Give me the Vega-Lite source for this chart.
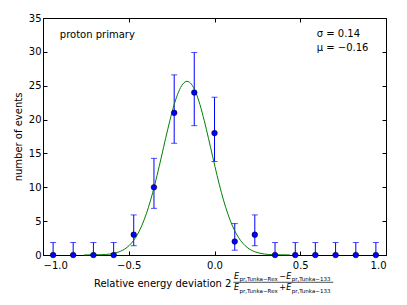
{
  "$schema": "https://vega.github.io/schema/vega-lite/v6.json",
  "width": 343,
  "height": 237,
  "autosize": "none",
  "padding": {"left": 43, "top": 18, "right": 21, "bottom": 50},
  "background": "white",
  "config": {
    "view": {"stroke": "black", "strokeWidth": 1},
    "font": "DejaVu Sans",
    "axis": {
      "grid": false,
      "domain": false,
      "tickColor": "black",
      "tickSize": -4,
      "labelFont": "DejaVu Sans",
      "labelFontSize": 10,
      "labelColor": "black",
      "titleFont": "DejaVu Sans",
      "titleFontSize": 10,
      "titleFontWeight": "normal",
      "titleColor": "black"
    }
  },
  "datasets": {
    "bins": [
      {"x": -0.941, "n": 0, "lo": 0, "hi": 1.84},
      {"x": -0.824, "n": 0, "lo": 0, "hi": 1.84},
      {"x": -0.706, "n": 0, "lo": 0, "hi": 1.84},
      {"x": -0.588, "n": 0, "lo": 0, "hi": 1.84},
      {"x": -0.471, "n": 3, "lo": 1.37, "hi": 5.92},
      {"x": -0.353, "n": 10, "lo": 6.89, "hi": 14.27},
      {"x": -0.235, "n": 21, "lo": 16.5, "hi": 26.6},
      {"x": -0.118, "n": 24, "lo": 19.1, "hi": 29.9},
      {"x": 0.0, "n": 18, "lo": 13.8, "hi": 23.3},
      {"x": 0.118, "n": 2, "lo": 0.71, "hi": 4.64},
      {"x": 0.235, "n": 3, "lo": 1.37, "hi": 5.92},
      {"x": 0.353, "n": 0, "lo": 0, "hi": 1.84},
      {"x": 0.471, "n": 0, "lo": 0, "hi": 1.84},
      {"x": 0.588, "n": 0, "lo": 0, "hi": 1.84},
      {"x": 0.706, "n": 0, "lo": 0, "hi": 1.84},
      {"x": 0.824, "n": 0, "lo": 0, "hi": 1.84},
      {"x": 0.941, "n": 0, "lo": 0, "hi": 1.84}
    ],
    "fit": [
      {"x": -0.76, "y": 0.0026}, {"x": -0.66, "y": 0.044}, {"x": -0.61, "y": 0.146},
      {"x": -0.56, "y": 0.433}, {"x": -0.535, "y": 0.71}, {"x": -0.51, "y": 1.127},
      {"x": -0.485, "y": 1.733}, {"x": -0.46, "y": 2.583}, {"x": -0.435, "y": 3.727},
      {"x": -0.41, "y": 5.207}, {"x": -0.385, "y": 7.05}, {"x": -0.36, "y": 9.245},
      {"x": -0.335, "y": 11.75}, {"x": -0.31, "y": 14.45}, {"x": -0.285, "y": 17.22},
      {"x": -0.26, "y": 19.87}, {"x": -0.235, "y": 22.22}, {"x": -0.21, "y": 24.06},
      {"x": -0.185, "y": 25.24}, {"x": -0.16, "y": 25.65}, {"x": -0.135, "y": 25.24},
      {"x": -0.11, "y": 24.06}, {"x": -0.085, "y": 22.22}, {"x": -0.06, "y": 19.87},
      {"x": -0.035, "y": 17.22}, {"x": -0.01, "y": 14.45}, {"x": 0.015, "y": 11.75},
      {"x": 0.04, "y": 9.245}, {"x": 0.065, "y": 7.05}, {"x": 0.09, "y": 5.207},
      {"x": 0.115, "y": 3.727}, {"x": 0.14, "y": 2.583}, {"x": 0.165, "y": 1.733},
      {"x": 0.19, "y": 1.127}, {"x": 0.215, "y": 0.71}, {"x": 0.24, "y": 0.433},
      {"x": 0.29, "y": 0.146}, {"x": 0.34, "y": 0.044}, {"x": 0.44, "y": 0.0026}
    ],
    "notes": [
      {"x": -0.902, "y": 32.5, "label": "proton primary"},
      {"x": 0.596, "y": 32.6, "label": "σ = 0.14"},
      {"x": 0.596, "y": 30.5, "label": "μ = −0.16"}
    ],
    "frac": [
      {"x": 0.114, "y": -3.5, "label": "E", "kind": "E"},
      {"x": 0.146, "y": -3.8, "label": "pr,Tunka−Rex", "kind": "sub"},
      {"x": 0.378, "y": -3.5, "label": "−", "kind": "op"},
      {"x": 0.419, "y": -3.5, "label": "E", "kind": "E"},
      {"x": 0.451, "y": -3.8, "label": "pr,Tunka−133", "kind": "sub"},
      {"x": 0.114, "y": -5.24, "label": "E", "kind": "E"},
      {"x": 0.146, "y": -5.54, "label": "pr,Tunka−Rex", "kind": "sub"},
      {"x": 0.378, "y": -5.24, "label": "+", "kind": "op"},
      {"x": 0.419, "y": -5.24, "label": "E", "kind": "E"},
      {"x": 0.451, "y": -5.54, "label": "pr,Tunka−133", "kind": "sub"}
    ],
    "bar": [{"x": 0.11, "x2": 0.693, "y": -4.03}]
  },
  "layer": [
    {
      "data": {"name": "bins"},
      "mark": {"type": "rule", "color": "#0000ff", "strokeWidth": 1},
      "encoding": {
        "x": {"field": "x", "type": "quantitative",
          "scale": {"domain": [-1, 1], "nice": false, "zero": false},
          "axis": {"orient": "bottom", "values": [-1, -0.5, 0, 0.5, 1], "format": ".1f",
            "labelPadding": 9, "title": "Relative energy deviation 2",
            "titleAnchor": "start", "titleAlign": "right", "titleX": 188, "titleY": 31,
            "titleBaseline": "alphabetic"}},
        "y": {"field": "lo", "type": "quantitative",
          "scale": {"domain": [0, 35], "nice": false},
          "axis": {"orient": "left", "values": [0, 5, 10, 15, 20, 25, 30, 35],
            "labelPadding": 6, "title": "number of events", "titlePadding": 5}},
        "y2": {"field": "hi"}
      }
    },
    {
      "data": {"name": "bins"},
      "mark": {"type": "tick", "orient": "horizontal", "color": "#0000ff", "size": 6, "thickness": 1},
      "encoding": {
        "x": {"field": "x", "type": "quantitative", "scale": {"domain": [-1, 1], "nice": false, "zero": false},
          "axis": {"orient": "top", "values": [-1, -0.5, 0, 0.5, 1], "labels": false, "title": null}},
        "y": {"field": "hi", "type": "quantitative", "scale": {"domain": [0, 35], "nice": false},
          "axis": {"orient": "right", "values": [0, 5, 10, 15, 20, 25, 30, 35], "labels": false, "title": null}}
      }
    },
    {
      "data": {"name": "bins"},
      "mark": {"type": "tick", "orient": "horizontal", "color": "#0000ff", "size": 6, "thickness": 1},
      "encoding": {
        "x": {"field": "x", "type": "quantitative", "scale": {"domain": [-1, 1], "nice": false, "zero": false}, "axis": null},
        "y": {"field": "lo", "type": "quantitative", "scale": {"domain": [0, 35], "nice": false}, "axis": null}
      }
    },
    {
      "data": {"name": "fit"},
      "mark": {"type": "line", "color": "#008000", "strokeWidth": 1, "interpolate": "monotone"},
      "encoding": {
        "x": {"field": "x", "type": "quantitative", "scale": {"domain": [-1, 1], "nice": false, "zero": false}, "axis": null},
        "y": {"field": "y", "type": "quantitative", "scale": {"domain": [0, 35], "nice": false}, "axis": null}
      }
    },
    {
      "data": {"name": "bins"},
      "mark": {"type": "circle", "fill": "#0000ff", "fillOpacity": 1, "stroke": "black", "strokeWidth": 0.5, "size": 32, "clip": false},
      "encoding": {
        "x": {"field": "x", "type": "quantitative", "scale": {"domain": [-1, 1], "nice": false, "zero": false}, "axis": null},
        "y": {"field": "n", "type": "quantitative", "scale": {"domain": [0, 35], "nice": false}, "axis": null}
      }
    },
    {
      "data": {"name": "notes"},
      "mark": {"type": "text", "align": "left", "baseline": "middle", "fontSize": 10, "font": "DejaVu Sans", "color": "black"},
      "encoding": {
        "x": {"field": "x", "type": "quantitative", "scale": {"domain": [-1, 1], "nice": false, "zero": false}, "axis": null},
        "y": {"field": "y", "type": "quantitative", "scale": {"domain": [0, 35], "nice": false}, "axis": null},
        "text": {"field": "label"}
      }
    },
    {
      "data": {"name": "frac"},
      "transform": [{"filter": "datum.kind === 'E'"}],
      "mark": {"type": "text", "align": "left", "baseline": "alphabetic", "fontSize": 8, "fontStyle": "italic", "font": "DejaVu Sans", "color": "black"},
      "encoding": {
        "x": {"field": "x", "type": "quantitative", "scale": {"domain": [-1, 1], "nice": false, "zero": false}, "axis": null},
        "y": {"field": "y", "type": "quantitative", "scale": {"domain": [0, 35], "nice": false}, "axis": null},
        "text": {"field": "label"}
      }
    },
    {
      "data": {"name": "frac"},
      "transform": [{"filter": "datum.kind === 'sub'"}],
      "mark": {"type": "text", "align": "left", "baseline": "alphabetic", "fontSize": 5.5, "font": "DejaVu Sans", "color": "black"},
      "encoding": {
        "x": {"field": "x", "type": "quantitative", "scale": {"domain": [-1, 1], "nice": false, "zero": false}, "axis": null},
        "y": {"field": "y", "type": "quantitative", "scale": {"domain": [0, 35], "nice": false}, "axis": null},
        "text": {"field": "label"}
      }
    },
    {
      "data": {"name": "frac"},
      "transform": [{"filter": "datum.kind === 'op'"}],
      "mark": {"type": "text", "align": "left", "baseline": "alphabetic", "fontSize": 8, "font": "DejaVu Sans", "color": "black"},
      "encoding": {
        "x": {"field": "x", "type": "quantitative", "scale": {"domain": [-1, 1], "nice": false, "zero": false}, "axis": null},
        "y": {"field": "y", "type": "quantitative", "scale": {"domain": [0, 35], "nice": false}, "axis": null},
        "text": {"field": "label"}
      }
    },
    {
      "data": {"name": "bar"},
      "mark": {"type": "rule", "color": "black", "strokeWidth": 0.7},
      "encoding": {
        "x": {"field": "x", "type": "quantitative", "scale": {"domain": [-1, 1], "nice": false, "zero": false}, "axis": null},
        "x2": {"field": "x2"},
        "y": {"field": "y", "type": "quantitative", "scale": {"domain": [0, 35], "nice": false}, "axis": null}
      }
    }
  ],
  "resolve": {"axis": {"x": "independent", "y": "independent"}}
}
